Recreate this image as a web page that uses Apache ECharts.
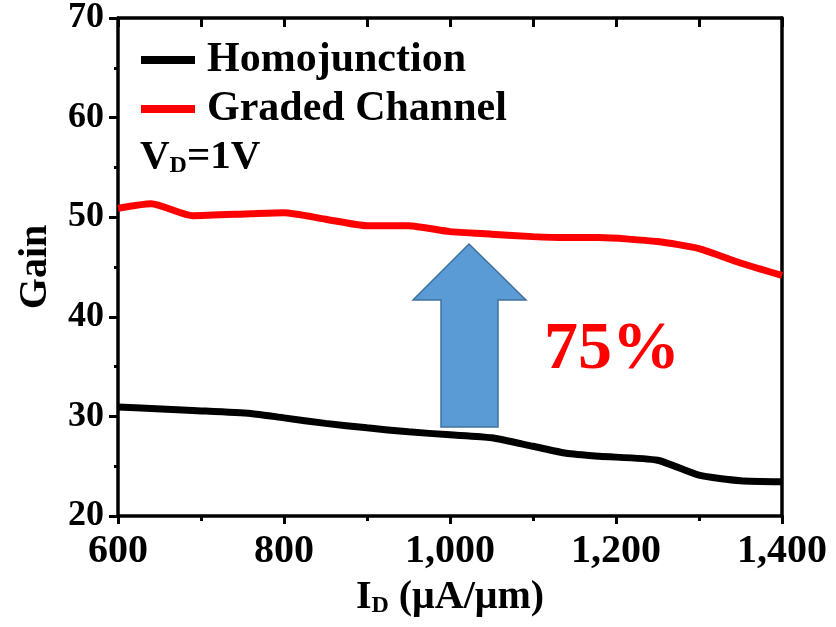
<!DOCTYPE html>
<html>
<head>
<meta charset="utf-8">
<title>Gain vs I_D</title>
<script src="https://cdn.jsdelivr.net/npm/echarts@6/dist/echarts.min.js"></script>
<style>
  html, body { margin: 0; padding: 0; background: #ffffff; }
  #chart { width: 836px; height: 627px; }
</style>
</head>
<body>
<div id="chart"></div>
<script>
// Drain current I_D (µA/µm) sample points
const idCurrent = [600, 640, 690, 760, 800, 850, 900, 950, 1000, 1050, 1100, 1140, 1180, 1250, 1300, 1350, 1400];
// Intrinsic gain of each device at V_D = 1 V
const gainHomojunction = [30.95, 30.8, 30.6, 30.3, 29.85, 29.3, 28.85, 28.45, 28.15, 27.85, 27.0, 26.3, 26.0, 25.6, 24.1, 23.55, 23.45];
const gainGraded = [50.9, 51.35, 50.15, 50.35, 50.45, 49.8, 49.15, 49.15, 48.55, 48.3, 48.05, 47.95, 47.95, 47.55, 46.85, 45.4, 44.15];
const seriesNames = ['Homojunction', 'Graded Channel'];
const xTicks = { min: 600, max: 1400, step: 200 };
const yTicks = { min: 20, max: 70, step: 10 };

const serif = "'Liberation Serif', 'Times New Roman', serif";
const chart = echarts.init(document.getElementById('chart'), null, { renderer: 'canvas' });

const pairs = vals => idCurrent.map((x, i) => [x, vals[i]]);
const frame = { lineStyle: { color: '#000', width: 3.5 } };

chart.setOption({
  animation: false,
  backgroundColor: '#fff',
  grid: { left: 118, right: 54, top: 16, bottom: 111, containLabel: false },
  legend: {
    orient: 'vertical',
    left: 141,
    top: 39,
    itemWidth: 54,
    itemHeight: 8,
    itemGap: 7,
    icon: 'rect',
    padding: 0,
    textStyle: {
      fontFamily: serif, fontWeight: 'bold', fontSize: 42, color: '#000',
      padding: [0, 0, 0, 7]
    },
    data: seriesNames
  },
  xAxis: [{
    type: 'value',
    min: xTicks.min, max: xTicks.max, interval: xTicks.step,
    name: '{a|I}{b|D}{a| (μA/μm)}',
    nameLocation: 'middle',
    nameGap: 62,
    nameTextStyle: {
      rich: {
        a: { fontFamily: serif, fontWeight: 'bold', fontSize: 40, color: '#000' },
        b: { fontFamily: serif, fontWeight: 'bold', fontSize: 24, color: '#000', verticalAlign: 'bottom' }
      }
    },
    axisLine: frame,
    axisTick: { show: true, inside: false, length: 8, lineStyle: { color: '#000', width: 3 } },
    minorTick: { show: true, splitNumber: 2, length: 5, lineStyle: { color: '#000', width: 3 } },
    axisLabel: { fontFamily: serif, fontWeight: 'bold', fontSize: 40, color: '#000', margin: 16 },
    splitLine: { show: false }
  }, {
    type: 'value', position: 'top',
    min: xTicks.min, max: xTicks.max, interval: xTicks.step,
    axisLine: frame,
    axisTick: { show: true, inside: true, length: 9, lineStyle: { color: '#000', width: 3 } },
    minorTick: { show: true, splitNumber: 2, length: 9, lineStyle: { color: '#000', width: 3 } },
    axisLabel: { show: false },
    splitLine: { show: false }
  }],
  yAxis: [{
    type: 'value',
    min: yTicks.min, max: yTicks.max, interval: yTicks.step,
    name: 'Gain',
    nameLocation: 'middle',
    nameGap: 62,
    nameRotate: 90,
    nameTextStyle: { fontFamily: serif, fontWeight: 'bold', fontSize: 40, color: '#000' },
    axisLine: frame,
    axisTick: { show: true, inside: false, length: 9, lineStyle: { color: '#000', width: 3 } },
    minorTick: { show: true, splitNumber: 2, length: 4, lineStyle: { color: '#000', width: 3 } },
    axisLabel: { fontFamily: serif, fontWeight: 'bold', fontSize: 36, color: '#000', margin: 14 },
    splitLine: { show: false }
  }, {
    type: 'value', position: 'right',
    min: yTicks.min, max: yTicks.max, interval: yTicks.step,
    axisLine: frame,
    axisTick: { show: false },
    axisLabel: { show: false },
    splitLine: { show: false }
  }],
  series: [{
    name: seriesNames[0],
    type: 'line',
    data: pairs(gainHomojunction),
    showSymbol: false, symbol: 'none',
    smooth: 0.2,
    color: '#000000',
    lineStyle: { width: 7, color: '#000000' }
  }, {
    name: seriesNames[1],
    type: 'line',
    data: pairs(gainGraded),
    showSymbol: false, symbol: 'none',
    smooth: 0.2,
    color: '#ff0000',
    lineStyle: { width: 7, color: '#ff0000' }
  }],
  graphic: [{
    // upward block arrow showing the gain improvement
    type: 'polygon',
    shape: { points: [[469, 244], [526, 300], [498, 300], [498, 427], [441, 427], [441, 300], [413, 300]] },
    style: { fill: '#5b9bd5', stroke: '#41719c', lineWidth: 1.5 },
    z: 10
  }, {
    type: 'text',
    style: {
      text: '75%', x: 612, y: 350, align: 'center', verticalAlign: 'middle',
      fontFamily: serif, fontWeight: 'bold', fontSize: 68, fill: '#ff0000'
    },
    z: 10
  }, {
    type: 'text',
    style: {
      text: '{a|V}{b|D}{a|=1V}', x: 140, y: 157, align: 'left', verticalAlign: 'middle',
      rich: {
        a: { fontFamily: serif, fontWeight: 'bold', fontSize: 41, fill: '#000' },
        b: { fontFamily: serif, fontWeight: 'bold', fontSize: 24, fill: '#000', verticalAlign: 'bottom' }
      }
    },
    z: 10
  }]
});
</script>
</body>
</html>
